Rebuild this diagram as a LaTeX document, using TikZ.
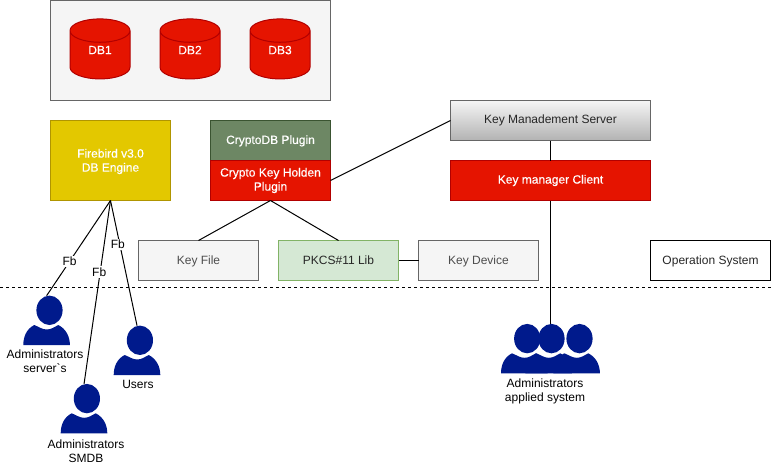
\documentclass[tikz,border=0pt]{standalone}
\usepackage{fontspec}
\usetikzlibrary{positioning, shapes.geometric}
\newfontfamily\drawfont{Liberation Sans}
\newfontfamily\whitefont[FakeBold=0.35]{Liberation Sans}
\definecolor{redfill}{HTML}{E51400}
\definecolor{redline}{HTML}{B20000}
\definecolor{yellowfill}{HTML}{E3C800}
\definecolor{yellowline}{HTML}{B09500}
\definecolor{olivefill}{HTML}{6D8764}
\definecolor{oliveline}{HTML}{3A5431}
\definecolor{greyfill}{HTML}{F5F5F5}
\definecolor{greyline}{HTML}{666666}
\definecolor{greytext}{HTML}{4D4D4D}
\definecolor{greenfill}{HTML}{D5E8D4}
\definecolor{greenline}{HTML}{82B366}
\definecolor{iconblue}{HTML}{001A8C}
% Figura de usuario: nombre y esquina inferior izquierda
\newcommand{\usericon}[2]{
  \node [iconbox, anchor=south west] (#1) at (#2) {};
  \fill [iconblue, shift={(#1.south west)}] (26.2,-34.7) ellipse [x radius=13.1, y radius=14.7];
  \fill [iconblue, shift={(#1.south west)}] (0,0) .. controls (0,-8) and (3,-16) .. (11,-20)
    .. controls (16,-18) and (19,-15.5) .. (23.5,-15.5)
    .. controls (28,-15.5) and (31,-18) .. (35,-20)
    .. controls (43,-16) and (46.6,-8) .. (46.6,0) -- cycle;
}
\begin{document}
\begin{tikzpicture}[x=0.75pt, y=-0.75pt, line width=0.75pt, every node/.style={font=\drawfont\fontsize{9}{10.5}\selectfont, align=center}]
  \tikzstyle{block} = [draw, rectangle, inner sep=0pt, outer sep=0pt, minimum height=30pt, minimum width=90pt]
  \tikzstyle{whitetext} = [text=white, font=\whitefont\fontsize{9}{10.5}\selectfont]
  \tikzstyle{oneline} = [text height=7.5pt, text depth=1.3pt]
  \tikzstyle{redblock} = [block, fill=redfill, draw=redline, whitetext]
  \tikzstyle{greyblock} = [block, oneline, fill=greyfill, draw=greyline, text=greytext]
  \tikzstyle{dbase} = [cylinder, shape border rotate=90, aspect=1.0, inner sep=0pt, outer sep=0pt, text depth=7.5pt, minimum width=45pt, minimum height=45pt, fill=redfill, draw=redline, whitetext]
  \tikzstyle{iconbox} = [inner sep=0pt, outer sep=0pt, minimum width=35pt, minimum height=37pt]
  \tikzstyle{caption} = [inner sep=0pt, text=black]
  \tikzstyle{fblabel} = [fill=white, inner sep=1pt]

  \useasboundingbox (0,0) rectangle (773,465);

  % Bases de datos
  \node [draw=greyline, fill=greyfill, inner sep=0pt, outer sep=0pt, minimum width=210pt, minimum height=75pt] (dbgroup) at (190.5,50.5) {};
  \node [dbase] (dbone) at (100,55) {DB1};
  \node [dbase, right=22.5pt of dbone] (dbtwo) {DB2};
  \node [dbase, right=22.5pt of dbtwo] (dbthree) {DB3};

  % Motor y plugins
  \node [block, fill=yellowfill, draw=yellowline, whitetext, minimum height=60pt] (engine) at (110.5,160.5) {\rule{0pt}{8pt}Firebird v3.0\\DB Engine};
  \node [block, oneline, text height=6.5pt, fill=olivefill, draw=oliveline, whitetext] (cryptoplugin) at (270.5,140.5) {CryptoDB Plugin};
  \node [redblock, below=0pt of cryptoplugin] (holderplugin) {Crypto Key Holden\\Plugin};

  % Servidor de claves
  \node [block, top color=greyfill, bottom color=black!30, draw=greyline, text=black!85, minimum width=150pt] (keyserver) at (550.5,120.5) {Key Manadement Server};
  \node [redblock, minimum width=150pt] (keyclient) at (550.5,180.5) {Key manager Client};

  % Fila inferior
  \node [greyblock] (keyfile) at (198.5,260.5) {Key File};
  \node [block, oneline, right=15pt of keyfile, fill=greenfill, draw=greenline, text=black!85] (pkcslib) {PKCS\#11 Lib};
  \node [greyblock, right=15pt of pkcslib] (keydevice) {Key Device};
  \node [block, oneline, draw=black, text=black!85] (opsystem) at (710.5,260.5) {Operation System};

  % Separador
  \coordinate (sepleft) at (0,287.5);
  \coordinate (sepright) at (773,287.5);
  \draw [dash pattern=on 2.25pt off 2.25pt] (sepleft) -- (sepright);

  % Usuarios
  \usericon{admserver}{23.3,345}
  \usericon{admsmdb}{60.7,433.3}
  \usericon{users}{113.7,375}
  \usericon{groupa}{501,373.3}
  \usericon{groupb}{525.3,373.3}
  \usericon{groupc}{553.3,373.3}
  \node [caption] (admservertext) at (45,361.5) {Administrators\\server\textasciigrave s};
  \node [caption] (admsmdbtext) at (86,451) {Administrators\\SMDB};
  \node [caption] (userstext) at (138,384.5) {Users};
  \node [caption] (grouptext) at (545,391) {Administrators\\applied system};

  % Conexiones
  \draw (holderplugin.south) -- (keyfile.north);
  \draw (holderplugin.south) -- (pkcslib.north);
  \draw (pkcslib) -- (keydevice);
  \draw (holderplugin.east) -- (keyserver.west);
  \draw (keyserver) -- (keyclient);
  \draw (keyclient.south) -- (keyclient.south |- groupb.north);
  \draw (engine.south) -- node [fblabel, pos=0.64] {Fb} (admserver.north);
  \draw (engine.south) -- node [fblabel, pos=0.39, xshift=-0.75pt] {Fb} (admsmdb.north);
  \draw (engine.south) -- node [fblabel, pos=0.35, xshift=-1.5pt] {Fb} (users.north);
\end{tikzpicture}
\end{document}
